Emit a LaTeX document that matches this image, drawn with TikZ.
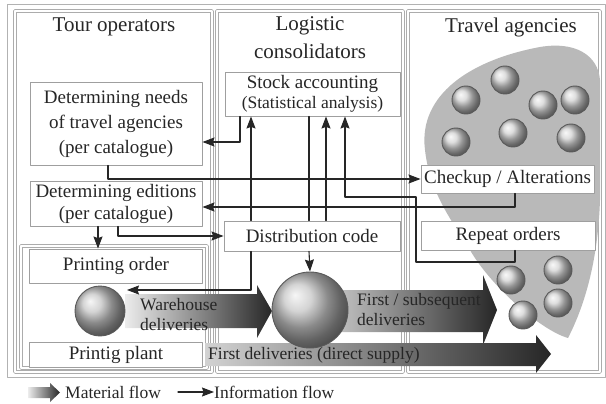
\documentclass[tikz,border=0pt]{standalone}
\usepackage{fontspec}
\setmainfont{Liberation Serif}
\usetikzlibrary{arrows.meta,calc}

\tikzset{
  panel/.style={draw=gray!65, double=white, double distance=2.2pt, line width=0.6pt},
  box/.style={draw=gray!75, line width=0.9pt, fill=white, align=center, inner sep=2pt,
    text=black!85, font=\fontsize{19}{25}\selectfont},
  title/.style={align=center, text=black!85, font=\fontsize{21}{28}\selectfont},
  flowlabel/.style={align=left, anchor=west, text=black!85, inner sep=0pt,
    font=\fontsize{17.5}{20}\selectfont},
  info/.style={line width=1.1pt, draw=black!85, -{Stealth[length=12pt,width=9pt,inset=1.5pt]}},
  infoline/.style={line width=1.1pt, draw=black!85},
  matflow/.style={left color=gray!15, right color=black!85},
  ballnode/.style={circle, draw=black!65, line width=0.9pt, inner sep=0pt, ball color=gray!35},
}

\begin{document}
\begin{tikzpicture}[x=1pt, y=-1pt, line cap=round, line join=round]
  \useasboundingbox (0,0) rectangle (606,404);
  % Rahmen und Spalten
  \draw[gray!60, line width=0.8pt] (7,4) rectangle (605,377);
  \draw[panel] (15,11) rectangle (212,372);
  \draw[panel] (217,11) rectangle (403,372);
  \draw[panel] (408,11) rectangle (600,372);
  \draw[panel] (21,246) rectangle (207,368);
  % Spaltenkoepfe
  \node[title] (ttour) at (114,27) {Tour operators};
  \node[title] (tlog) at (310,38) {Logistic\\consolidators};
  \node[title] (ttrav) at (511,27) {Travel agencies};
  % Reisebueros (graue Flaeche)
  \fill[gray!55] (425,150) .. controls (418,95) and (470,60) .. (540,47)
    .. controls (575,41) and (598,55) .. (600,80) -- (600,200)
    .. controls (598,260) and (585,305) .. (568,338)
    .. controls (540,330) and (490,285) .. (470,250)
    .. controls (455,225) and (430,195) .. cycle;
  % Kugeln der Reisebueros
  \foreach \p [count=\i] in {(466,100),(505,80),(543,105),(575,100),(456,142),(513,133),(571,138),
      (511,280),(558,270),(523,315),(558,303)} {
    \node[ballnode, minimum size=28pt] (ag\i) at \p {};
  }
  % Materialfluss
  \shade[matflow] (125,294) -- (257,294) -- (257,285) -- (272,311) -- (257,338) -- (257,328) -- (125,328) -- cycle;
  \shade[matflow, left color=gray!50] (340,290) -- (483,290) -- (483,275) -- (497,310) -- (483,345) -- (483,332) -- (340,332) -- cycle;
  \shade[matflow, left color=gray!35] (205,343) -- (536,343) -- (536,335) -- (551,354) -- (536,373) -- (536,366) -- (205,366) -- cycle;
  % Lager und Druckerei
  \node[ballnode, minimum size=50pt, ball color=gray!45] (ware) at (100,311) {};
  \node[ballnode, minimum size=76pt, ball color=gray!45] (hub) at (310,310) {};
  % Kaesten
  \node[box, minimum width=172pt, minimum height=83pt] (needs) at (116,123.5)
    {Determining needs\\of travel agencies\\(per catalogue)};
  \node[box, minimum width=175pt, minimum height=44pt, font=\fontsize{19}{20}\selectfont] (stock) at (312.5,94)
    {Stock accounting\\{\fontsize{17.5}{20}\selectfont(Statistical analysis)}};
  \node[box, minimum width=172pt, minimum height=45pt, font=\fontsize{19}{22}\selectfont] (editions) at (116,203.5)
    {Determining editions\\(per catalogue)};
  \node[box, minimum width=176pt, minimum height=30pt] (dist) at (312,236) {Distribution code};
  \node[box, minimum width=173pt, minimum height=28pt] (check) at (507.5,179) {Checkup / Alterations};
  \node[box, minimum width=174pt, minimum height=29pt] (repeat) at (508,235.5) {Repeat orders};
  \node[box, minimum width=173pt, minimum height=34pt] (order) at (116,266) {Printing order};
  \node[box, minimum width=173pt, minimum height=25pt] (plant) at (116,354.5) {Printig plant};
  % Beschriftung Materialfluss
  \node[flowlabel] (lware) at (140,315) {Warehouse\\deliveries};
  \node[flowlabel] (lsub) at (357,310) {First / subsequent\\deliveries};
  \node[flowlabel] (ldirect) at (208,355) {First deliveries (direct supply)};
  % Informationsfluss
  \coordinate (wareIn) at (127,290);
  \draw[info] (stock.south -| 240,0) |- (needs.east |- 0,142);
  \draw[info] (needs.south -| 108,0) |- (check.west);
  \draw[info] (dist.north -| 251,0) -- (stock.south -| 251,0);
  \draw[infoline] (stock.south -| 309,0) -- (dist.north -| 309,0);
  \draw[info] (dist.north -| 326,0) -- (stock.south -| 326,0);
  \draw[info] (repeat.south -| 515,0) |- (416,262) |- (345,197) -- (stock.south -| 345,0);
  \draw[info] (check.south -| 515,0) |- (editions.east |- 0,207);
  \draw[info] (editions.south -| 98,0) -- (order.north -| 98,0);
  \draw[info] (editions.south -| 118,0) |- (dist.west);
  \draw[info] (dist.south -| 251,0) |- (wareIn);
  \draw[info] (dist.south -| 309,0) -- (hub.north);
  % Legende
  \shade[matflow] (28,387) -- (50,387) -- (50,383) -- (60,392.5) -- (50,402) -- (50,398) -- (28,398) -- cycle;
  \node[flowlabel] (kmat) at (65,392) {Material flow};
  \node[flowlabel] (kinfo) at (214,392) {Information flow};
  \coordinate (infoKey) at (178,392);
  \draw[info] (infoKey) -- (kinfo.west);
\end{tikzpicture}
\end{document}
